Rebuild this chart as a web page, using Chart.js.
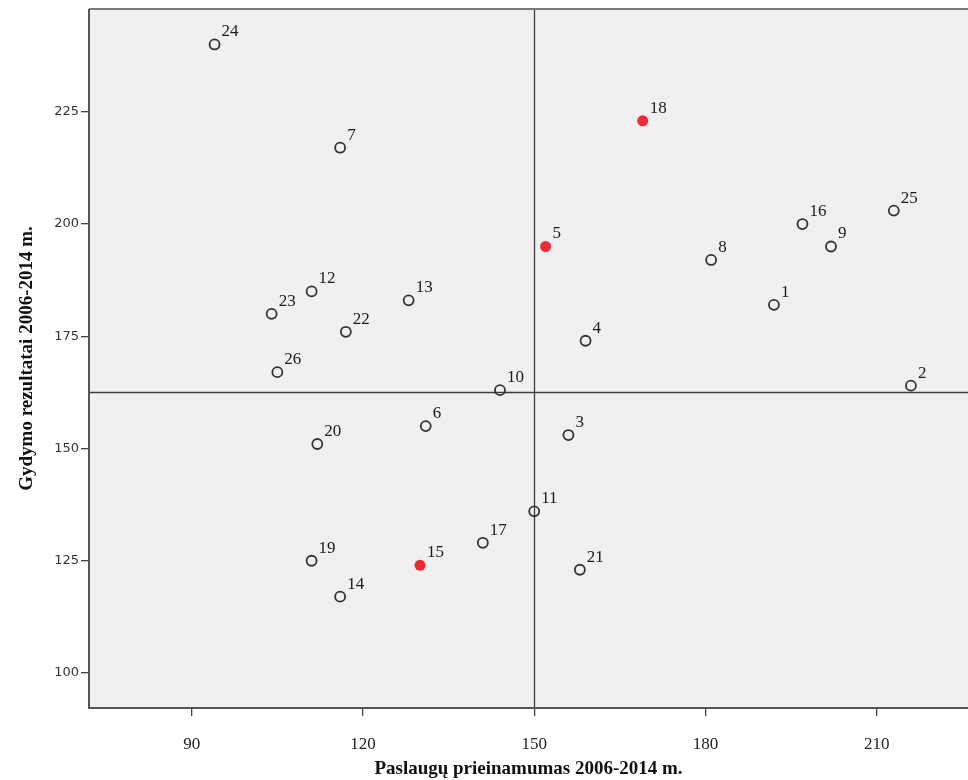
<!DOCTYPE html>
<html>
<head>
<meta charset="utf-8">
<script src="https://cdn.jsdelivr.net/npm/chart.js@4.4.1/dist/chart.umd.min.js"></script>
<style>
  html, body { margin: 0; padding: 0; background: #fff; }
  #wrap { width: 968px; height: 780px; }
</style>
</head>
<body>
<div id="wrap"><canvas id="scatter" width="968" height="780"></canvas></div>
<script>
// SPSS-style scatter: service access vs treatment results, 26 units

const unitIds = [1, 2, 3, 4, 5, 6, 7, 8, 9, 10, 11, 12, 13, 14, 15, 16, 17, 18, 19, 20, 21, 22, 23, 24, 25, 26];
const accessVals = [192, 216, 156, 159, 152, 131, 116, 181, 202, 144, 150, 111, 128, 116, 130, 197, 141, 169, 111, 112, 158, 117, 104, 94, 213, 105];
const resultVals = [182, 164, 153, 174, 195, 155, 217, 192, 195, 163, 136, 185, 183, 117, 124, 200, 129, 223, 125, 151, 123, 176, 180, 240, 203, 167];
const highlighted = [5, 15, 18];

const xTicks = [90, 120, 150, 180, 210];
const yTicks = [100, 125, 150, 175, 200, 225];

const X_MIN = 72, X_MAX = 226;
const Y_MIN = 92.2, Y_MAX = 247.9;
const REF_X = 150;
const REF_Y = 162.6;

const xTitle = "Paslaugų prieinamumas 2006-2014 m.";
const yTitle = "Gydymo rezultatai 2006-2014 m.";

function pointsFor(flag) {
  const out = [];
  for (let i = 0; i < unitIds.length; i++) {
    const isHi = highlighted.includes(unitIds[i]);
    if (isHi === flag) out.push({ x: accessVals[i], y: resultVals[i], id: unitIds[i] });
  }
  return out;
}

const backgroundPlugin = {
  id: "backgroundPlugin",
  beforeDraw(chart) {
    const { ctx, chartArea } = chart;
    ctx.save();
    ctx.fillStyle = "#f0f0f0";
    ctx.fillRect(chartArea.left, chartArea.top, chartArea.right - chartArea.left, chartArea.bottom - chartArea.top);
    ctx.restore();
  },
  beforeDatasetsDraw(chart) {
    const { ctx, chartArea } = chart;
    const xs = chart.scales.x, ys = chart.scales.y;
    ctx.save();
    // reference lines
    ctx.strokeStyle = "#3c3c3c";
    ctx.lineWidth = 1.3;
    const rx = Math.round(xs.getPixelForValue(REF_X)) + 0.5;
    const ry = Math.round(ys.getPixelForValue(REF_Y)) + 0.5;
    ctx.beginPath();
    ctx.moveTo(rx, chartArea.top);
    ctx.lineTo(rx, chartArea.bottom);
    ctx.moveTo(chartArea.left, ry);
    ctx.lineTo(chartArea.right, ry);
    ctx.stroke();
    // frame: top, left, bottom
    ctx.strokeStyle = "#7a7a7a";
    ctx.lineWidth = 2;
    ctx.beginPath();
    ctx.moveTo(chartArea.left, chartArea.top);
    ctx.lineTo(chartArea.right, chartArea.top);
    ctx.stroke();
    ctx.strokeStyle = "#555";
    ctx.beginPath();
    ctx.moveTo(chartArea.left, chartArea.top);
    ctx.lineTo(chartArea.left, chartArea.bottom);
    ctx.lineTo(chartArea.right, chartArea.bottom);
    ctx.stroke();
    ctx.restore();
  }
};

const pointLabelPlugin = {
  id: "pointLabelPlugin",
  afterDatasetsDraw(chart) {
    const { ctx } = chart;
    ctx.save();
    ctx.font = "17px 'Liberation Serif', serif";
    ctx.fillStyle = "#1a1a1a";
    ctx.textAlign = "left";
    ctx.textBaseline = "alphabetic";
    chart.data.datasets.forEach((ds, di) => {
      const meta = chart.getDatasetMeta(di);
      meta.data.forEach((el, i) => {
        ctx.fillText(String(ds.data[i].id), el.x + 7, el.y - 8);
      });
    });
    ctx.restore();
  }
};

const config = {
  type: "scatter",
  data: {
    datasets: [
      {
        label: "units",
        data: pointsFor(false),
        pointRadius: 5,
        pointHoverRadius: 5,
        pointBorderWidth: 1.8,
        borderColor: "#333",
        backgroundColor: "rgba(0,0,0,0)"
      },
      {
        label: "highlighted",
        data: pointsFor(true),
        pointRadius: 5.5,
        pointHoverRadius: 5.5,
        pointBorderWidth: 0,
        borderColor: "#ee2b36",
        backgroundColor: "#ee2b36"
      }
    ]
  },
  options: {
    responsive: false,
    animation: false,
    layout: { autoPadding: false, padding: { top: 9, right: 0, left: 0, bottom: 0 } },
    plugins: {
      legend: { display: false },
      tooltip: { enabled: false }
    },
    scales: {
      x: {
        type: "linear",
        min: X_MIN,
        max: X_MAX,
        afterBuildTicks: s => { s.ticks = xTicks.map(v => ({ value: v })); },
        afterFit: s => { s.height = 72; s.paddingLeft = 0; s.paddingRight = 0; },
        grid: { drawOnChartArea: false, drawTicks: true, tickLength: 8, color: "#444", lineWidth: 1.3 },
        border: { display: false },
        ticks: {
          color: "#222",
          padding: 18,
          maxRotation: 0,
          font: { family: "'Liberation Serif', serif", size: 17 }
        },
        title: {
          display: true,
          text: xTitle,
          color: "#111",
          padding: { top: 0, bottom: 0 },
          font: { family: "'Liberation Serif', serif", size: 19, weight: "bold" }
        }
      },
      y: {
        type: "linear",
        min: Y_MIN,
        max: Y_MAX,
        afterBuildTicks: s => { s.ticks = yTicks.map(v => ({ value: v })); },
        afterFit: s => { s.width = 89; s.paddingTop = 0; s.paddingBottom = 0; },
        grid: { drawOnChartArea: false, drawTicks: true, tickLength: 8, color: "#444", lineWidth: 1.3 },
        border: { display: false },
        ticks: {
          color: "#333",
          padding: 2,
          font: { family: "'DejaVu Sans', sans-serif", size: 13 }
        },
        title: {
          display: true,
          text: yTitle,
          color: "#111",
          padding: { top: 16, bottom: 8 },
          font: { family: "'Liberation Serif', serif", size: 19, weight: "bold" }
        }
      }
    }
  },
  plugins: [backgroundPlugin, pointLabelPlugin]
};

const ctx = document.getElementById("scatter").getContext("2d");
new Chart(ctx, config);
</script>
</body>
</html>
